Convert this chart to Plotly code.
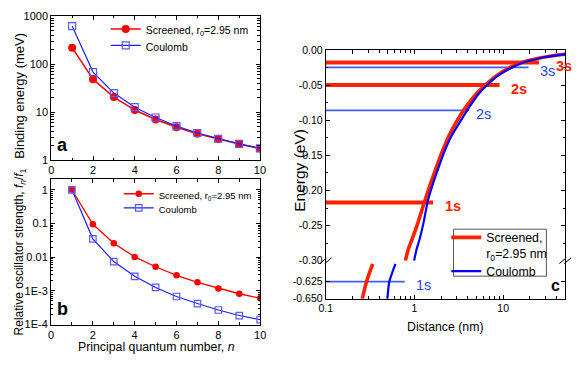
import math
import plotly.graph_objects as go

W, H = 582, 367
FONT = "Arial, Liberation Sans, sans-serif"

# ---------------- data ----------------
n = [1, 2, 3, 4, 5, 6, 7, 8, 9, 10]
bind_screened = [219, 48, 20.5, 11.0, 7.0, 4.8, 3.55, 2.75, 2.16, 1.74]
bind_coulomb = [617, 68, 24.8, 12.6, 7.7, 5.1, 3.66, 2.78, 2.18, 1.76]
osc_screened = [1.0, 0.095, 0.026, 0.0102, 0.0052, 0.0029, 0.00179, 0.00118, 0.00082, 0.0006]
osc_coulomb = [1.0, 0.035, 0.0074, 0.0027, 0.00126, 0.00068, 0.00042, 0.00027, 0.000185, 0.000139]

# potential curves (upper part of broken axis)
r_scr_up = [0.79, 0.845, 0.95, 1.10, 1.29, 1.50, 1.75, 2.05, 2.45, 3.0, 3.9, 5.0, 6.3, 8.5, 12.0, 16.3, 25, 35, 50]
E_scr_up = [-0.300, -0.285, -0.268, -0.245, -0.217, -0.192, -0.168, -0.145, -0.122, -0.101, -0.079, -0.062,
            -0.0496, -0.036, -0.0245, -0.0174, -0.0114, -0.0082, -0.0058]
r_coul_up = [0.99, 1.05, 1.15, 1.27, 1.40, 1.60, 1.86, 2.17, 2.62, 3.3, 4.25, 5.3, 6.6, 8.8, 12.6, 16.9, 25.6, 35.5, 50]
E_coul_up = [-0.300, -0.285, -0.268, -0.245, -0.217, -0.192, -0.168, -0.145, -0.122, -0.101, -0.079, -0.062,
             -0.0496, -0.036, -0.0245, -0.0174, -0.0114, -0.0082, -0.0059]
# lower part of broken axis
r_scr_low = [0.258, 0.288, 0.338]
E_scr_low = [-0.650, -0.625, -0.599]
r_coul_low = [0.495, 0.52, 0.61]
E_coul_low = [-0.650, -0.625, -0.599]

# energy levels
lev_scr_names = ["1s", "2s", "3s"]
lev_scr_E = [-0.217, -0.0496, -0.0174]
lev_scr_rend = [1.62, 9.1, 25.3]
lev_coul_names = ["1s", "2s", "3s"]
lev_coul_E = [-0.625, -0.0858, -0.0246]
lev_coul_rend = [0.776, 4.14, 19.3]
lev_r_start = 0.1

# ---------------- helpers ----------------
def fx(px):
    return px / W

def fy(py):
    return 1 - py / H

RED = "#ff0000"
BLUE = "#1f1fff"
CRED = "#ff2200"
CBLUE = "#0000ff"
LBLUE = "#3f5ff0"

fig = go.Figure()

# panel a
fig.add_trace(go.Scatter(x=n, y=bind_screened, mode="lines+markers", name="Screened, r<sub>0</sub>=2.95 nm",
                         line=dict(color=RED, width=1.6), marker=dict(symbol="circle", size=8, color=RED),
                         xaxis="x", yaxis="y", legend="legend"))
fig.add_trace(go.Scatter(x=n, y=bind_coulomb, mode="lines+markers", name="Coulomb",
                         line=dict(color=BLUE, width=1.2),
                         marker=dict(symbol="square-open", size=7, color="#5a5aff", line=dict(width=1.2)),
                         xaxis="x", yaxis="y", legend="legend2"))
# panel b
fig.add_trace(go.Scatter(x=n, y=osc_screened, mode="lines+markers", name="Screened, r<sub>0</sub>=2.95 nm",
                         line=dict(color=RED, width=1.3), marker=dict(symbol="circle", size=6.5, color=RED),
                         xaxis="x2", yaxis="y2", legend="legend3"))
fig.add_trace(go.Scatter(x=n, y=osc_coulomb, mode="lines+markers", name="Coulomb",
                         line=dict(color=BLUE, width=1.2),
                         marker=dict(symbol="square-open", size=6.5, color="#5a5aff", line=dict(width=1.2)),
                         xaxis="x2", yaxis="y2", legend="legend4"))

# panel c levels
for E, r1 in zip(lev_coul_E, lev_coul_rend):
    ya = "y4" if E < -0.3 else "y3"
    xa = "x4" if E < -0.3 else "x3"
    fig.add_trace(go.Scatter(x=[lev_r_start, r1], y=[E, E], mode="lines", line=dict(color=LBLUE, width=1.8),
                             showlegend=False, xaxis=xa, yaxis=ya, hoverinfo="skip"))
for E, r1 in zip(lev_scr_E, lev_scr_rend):
    fig.add_trace(go.Scatter(x=[lev_r_start, r1], y=[E, E], mode="lines", line=dict(color=CRED, width=4),
                             showlegend=False, xaxis="x3", yaxis="y3", hoverinfo="skip"))

# panel c curves
fig.add_trace(go.Scatter(x=r_scr_up, y=E_scr_up, mode="lines", name="Screened,<br>r<sub>0</sub>=2.95 nm",
                         line=dict(color=CRED, width=3.6, shape="spline", smoothing=0.5),
                         xaxis="x3", yaxis="y3", legend="legend5"))
fig.add_trace(go.Scatter(x=r_coul_up, y=E_coul_up, mode="lines", name="Coulomb",
                         line=dict(color=CBLUE, width=2.2, shape="spline", smoothing=0.5),
                         xaxis="x3", yaxis="y3", legend="legend6"))
fig.add_trace(go.Scatter(x=r_scr_low, y=E_scr_low, mode="lines", showlegend=False,
                         line=dict(color=CRED, width=3.6, shape="spline", smoothing=0.5), xaxis="x4", yaxis="y4"))
fig.add_trace(go.Scatter(x=r_coul_low, y=E_coul_low, mode="lines", showlegend=False,
                         line=dict(color=CBLUE, width=2.2, shape="spline", smoothing=0.5), xaxis="x4", yaxis="y4"))

# ---------------- axes ----------------
common = dict(showline=True, linecolor="black", linewidth=1, ticks="inside", ticklen=4, tickwidth=1,
              tickcolor="black", showgrid=False, zeroline=False, tickfont=dict(family=FONT, size=11, color="black"))
small_tf = dict(family=FONT, size=10.5, color="black")

fig.update_layout(
    width=W, height=H, margin=dict(l=0, r=0, t=0, b=0),
    paper_bgcolor="white", plot_bgcolor="white",
    font=dict(family=FONT, color="black"),
    xaxis=dict(domain=[fx(45.3), fx(258.7)], range=[0, 10], dtick=2, anchor="y", mirror="allticks",
               minor=dict(ticks="inside", ticklen=2.5, dtick=1, tickcolor="black"), **common),
    yaxis=dict(domain=[fy(159.3), fy(10.3)], type="log", range=[0, 3], anchor="x", mirror="allticks",
               tickvals=[1, 10, 100, 1000], ticktext=["1", "10", "100", "1000"],
               minor=dict(ticks="inside", ticklen=2.5, dtick="D1", tickcolor="black"), **common),
    xaxis2=dict(domain=[fx(45), fx(259)], range=[0, 10], dtick=2, anchor="y2", mirror="allticks",
                minor=dict(ticks="inside", ticklen=2.5, dtick=1, tickcolor="black"), **common),
    yaxis2=dict(domain=[fy(329.3), fy(179)], type="log", range=[-4, 0.316], anchor="x2", mirror="allticks",
                tickvals=[1e-4, 1e-3, 1e-2, 1e-1, 1], ticktext=["1E-4", "1E-3", "0.01", "0.1", "1"],
                minor=dict(ticks="inside", ticklen=2.5, dtick="D1", tickcolor="black"), **common),
    xaxis3=dict(domain=[fx(326), fx(571)], type="log", range=[-1, math.log10(50)], anchor="y3", side="top",
                showticklabels=False,
                minor=dict(ticks="inside", ticklen=2.5, dtick="D1", tickcolor="black"), **common),
    yaxis3=dict(domain=[fy(263.3), fy(45.7)], range=[-0.30, 0.0], anchor="x3", mirror="ticks",
                tickvals=[0, -0.05, -0.10, -0.15, -0.20, -0.25, -0.30],
                ticktext=["0.00", "-0.05", "-0.10", "-0.15", "-0.20", "-0.25", "-0.30"],
                minor=dict(ticks="inside", ticklen=2.5, tickvals=[-0.025, -0.075, -0.125, -0.175, -0.225, -0.275],
                           tickcolor="black"),
                **{**common, "tickfont": small_tf}),
    xaxis4=dict(domain=[fx(326), fx(571)], type="log", range=[-1, math.log10(50)], anchor="y4",
                tickvals=[0.1, 1, 10], ticktext=["0.1", "1", "10"],
                minor=dict(ticks="inside", ticklen=2.5, dtick="D1", tickcolor="black"),
                **{**common, "tickfont": small_tf}),
    yaxis4=dict(domain=[fy(302.7), fy(263.3)], range=[-0.65, -0.5944], anchor="x4", mirror="ticks",
                tickvals=[-0.65, -0.625], ticktext=["-0.650", "-0.625"],
                **{**common, "tickfont": small_tf}),
)

leg_common = dict(xanchor="left", yanchor="middle", bgcolor="rgba(0,0,0,0)", borderwidth=0,
                  itemwidth=30, tracegroupgap=0, valign="top")
fig.update_layout(
    legend=dict(x=fx(101), y=fy(25), font=dict(family=FONT, size=10.5), **leg_common),
    legend2=dict(x=fx(101), y=fy(42), font=dict(family=FONT, size=10.5), **leg_common),
    legend3=dict(x=fx(114.3), y=fy(196), font=dict(family=FONT, size=9.5), **leg_common),
    legend4=dict(x=fx(114.3), y=fy(210.5), font=dict(family=FONT, size=9.5), **leg_common),
    legend5=dict(x=fx(449.3), y=fy(247.5), font=dict(family=FONT, size=12.3), **leg_common),
    legend6=dict(x=fx(449.3), y=fy(274), font=dict(family=FONT, size=12.3), **leg_common),
)

ann = []
# axis titles
ann.append(dict(text="Binding energy (meV)", x=fx(13), y=fy(93), textangle=-90, font=dict(size=13)))
ann.append(dict(text="Relative oscillator strength, <i>f</i><sub><i>n</i></sub>/<i>f</i><sub>1</sub>",
                x=fx(13), y=fy(254), textangle=-90, font=dict(size=12)))
ann.append(dict(text="Principal quantum number, <i>n</i>", x=fx(153.3), y=fy(353), font=dict(size=12.3)))
ann.append(dict(text="Energy (eV)", x=fx(299), y=fy(170), textangle=-90, font=dict(size=15.5)))
ann.append(dict(text="Distance (nm)", x=fx(448.3), y=fy(331.7), font=dict(size=12.3)))
# panel letters
ann.append(dict(text="<b>a</b>", x=fx(56.5), y=fy(144), font=dict(size=18)))
ann.append(dict(text="<b>b</b>", x=fx(57), y=fy(313.5), font=dict(size=18)))
ann.append(dict(text="<b>c</b>", x=fx(561), y=fy(288.5), font=dict(size=16)))
for a in ann:
    a.update(xref="paper", yref="paper", showarrow=False, xanchor="center", yanchor="middle")
    a["font"] = dict(family=FONT, color="black", **a["font"])

# level labels
scr_shift = [10, 9, 15]
for name, E, r1, dx in zip(lev_scr_names, lev_scr_E, lev_scr_rend, scr_shift):
    ann.append(dict(text="<b>%s</b>" % name, x=math.log10(r1), y=E, xref="x3", yref="y3", showarrow=False,
                    xanchor="left", yanchor="middle", xshift=dx, yshift=-3.5,
                    font=dict(family=FONT, size=14.5, color=CRED)))
coul_shift = [9, 5, 9]
for name, E, r1, dx in zip(lev_coul_names, lev_coul_E, lev_coul_rend, coul_shift):
    low = E < -0.3
    ann.append(dict(text=name, x=math.log10(r1), y=E, xref="x4" if low else "x3", yref="y4" if low else "y3",
                    showarrow=False, xanchor="left", yanchor="middle", xshift=dx, yshift=-3.5,
                    font=dict(family=FONT, size=14.5, color="#2a3ff0")))
fig.update_layout(annotations=ann)

# legend box of panel c and axis-break marks
shapes = [dict(type="rect", xref="paper", yref="paper", x0=fx(456.7), x1=fx(551.7), y0=fy(279.3), y1=fy(230.7),
               line=dict(color="#555555", width=1), fillcolor="white", layer="above")]
for xb in (326, 571):
    for d in (-2.5, 2.5):
        shapes.append(dict(type="line", xref="paper", yref="paper",
                           x0=fx(xb + d - 3.5), y0=fy(263.3 + 3), x1=fx(xb + d + 3.5), y1=fy(263.3 - 3),
                           line=dict(color="black", width=1)))
fig.update_layout(shapes=shapes)

fig.write_html("out.html", config={"displayModeBar": False},
               post_script="document.body.style.margin='0';document.body.style.padding='0';")
